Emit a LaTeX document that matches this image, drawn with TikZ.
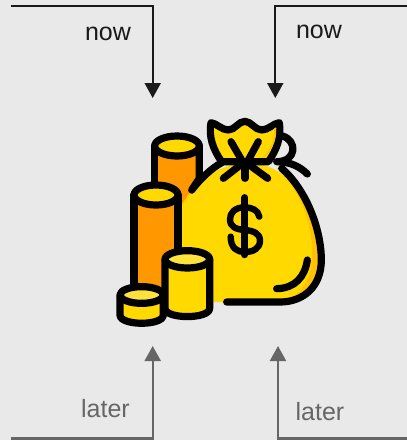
\documentclass[tikz,border=0pt]{standalone}
\usepackage{fontspec}
\setmainfont{Liberation Sans}
\usetikzlibrary{arrows.meta}
\tikzset{
  nowArrow/.style={color={rgb, 255:red, 26; green, 26; blue, 26 }, line width=1.5pt, -{Triangle[length=11.25pt,width=12pt]}},
  laterArrow/.style={color={rgb, 255:red, 102; green, 102; blue, 102 }, line width=1.7pt, -{Triangle[length=11.25pt,width=12pt]}},
  nowLabel/.style={color={rgb, 255:red, 26; green, 26; blue, 26 }, font=\fontsize{18.75}{20}\selectfont, inner sep=0.75pt},
  laterLabel/.style={color={rgb, 255:red, 102; green, 102; blue, 102 }, font=\fontsize{18.75}{20}\selectfont, inner sep=0.75pt},
  iconLine/.style={color=black, line width=5.4pt, line cap=round, line join=round},
  goldFill/.style={fill={rgb, 255:red, 255; green, 217; blue, 0 }},
  paleFill/.style={fill={rgb, 255:red, 255; green, 226; blue, 60 }},
  darkGoldFill/.style={fill={rgb, 255:red, 255; green, 193; blue, 7 }},
  orangeFill/.style={fill={rgb, 255:red, 255; green, 152; blue, 0 }}
}
\begin{document}
\begin{tikzpicture}[x=0.75pt,y=0.75pt,yscale=-1,xscale=1]
%Shape: Background
\fill [color={rgb, 255:red, 233; green, 233; blue, 233 }] (0,0) rectangle (407,440) ;
\useasboundingbox (0,0) rectangle (407,440) ;

%Connector ends
\coordinate (nowLeftStart) at (11,6.3) ;
\coordinate (nowLeftBend) at (152.7,6.3) ;
\coordinate (nowLeftEnd) at (152.7,98) ;
\coordinate (nowRightStart) at (407,6.3) ;
\coordinate (nowRightBend) at (275.3,6.3) ;
\coordinate (nowRightEnd) at (275.3,98) ;
\coordinate (laterLeftStart) at (11,438.6) ;
\coordinate (laterLeftBend) at (152.7,438.6) ;
\coordinate (laterLeftEnd) at (152.7,346) ;
\coordinate (laterRightStart) at (407,438.6) ;
\coordinate (laterRightBend) at (278,438.6) ;
\coordinate (laterRightEnd) at (278,346) ;

%Straight Lines
\draw [nowArrow] (nowLeftStart) -- (nowLeftBend) -- (nowLeftEnd) ;
\draw [nowArrow] (nowRightStart) -- (nowRightBend) -- (nowRightEnd) ;
\draw [laterArrow] (laterLeftStart) -- (laterLeftBend) -- (laterLeftEnd) ;
\draw [laterArrow] (laterRightStart) -- (laterRightBend) -- (laterRightEnd) ;

% Text Node
\node [nowLabel] (nowLeft) at (108,33.5) {now} ;
% Text Node
\node [nowLabel] (nowRight) at (319,31.5) {now} ;
% Text Node
\node [laterLabel] (laterLeft) at (105.5,409) {later} ;
% Text Node
\node [laterLabel] (laterRight) at (320,411.5) {later} ;

%Icon, drawn in a 3x grid
\begin{scope}[shift={(100,100)},scale=0.33333]
%Shape: Bag
\path [goldFill] (240,320) .. controls (285,250) and (335,200) .. (435,188) .. controls (520,190) and (560,225) .. (600,285) .. controls (650,360) and (665,430) .. (662,480) .. controls (660,570) and (600,606) .. (540,606) -- (340,606) -- (240,450) -- cycle ;
\path [darkGoldFill] (530,205) .. controls (600,270) and (640,370) .. (636,470) .. controls (632,550) and (600,590) .. (540,606) .. controls (620,606) and (662,560) .. (662,480) .. controls (665,400) and (620,270) .. (545,205) -- cycle ;
\draw [iconLine] (275,270) .. controls (305,232) and (335,205) .. (365,188) ;
\draw [iconLine] (545,205) .. controls (620,270) and (664,390) .. (664,480) .. controls (664,560) and (610,606) .. (540,606) -- (380,606) ;
\draw [iconLine] (622,480) .. controls (615,530) and (585,565) .. (530,566) ;
%Shape: Loop
\draw [iconLine] (547,108) .. controls (592,120) and (592,185) .. (530,185) .. controls (570,185) and (600,200) .. (622,222) ;
%Shape: Ruffle
\draw [iconLine, goldFill] (333,68) .. controls (350,70) and (365,90) .. (385,90) .. controls (405,90) and (415,64) .. (435,64) .. controls (453,64) and (465,90) .. (485,90) .. controls (505,90) and (520,70) .. (538,68) .. controls (545,110) and (530,150) .. (505,185) -- (365,185) .. controls (340,150) and (325,110) .. (333,68) -- cycle ;
\path [darkGoldFill] (522,86) -- (528,82) .. controls (532,110) and (520,145) .. (495,172) -- (486,172) .. controls (512,150) and (525,115) .. (522,86) -- cycle ;
\draw [iconLine] (393,125) -- (425,180) ;
\draw [iconLine] (475,125) -- (445,180) ;
\draw [iconLine] (415,200) -- (370,235) ;
\draw [iconLine] (455,200) -- (503,235) ;
\draw [iconLine] (435,190) -- (435,235) ;
%Shape: Dollar
\draw [iconLine, line width=4.8pt] (434,292) -- (434,465) ;
\draw [iconLine, line width=4.8pt] (478,350) .. controls (474,330) and (455,322) .. (434,322) .. controls (405,322) and (390,338) .. (390,358) .. controls (390,382) and (410,388) .. (434,390) .. controls (460,392) and (480,400) .. (480,422) .. controls (480,445) and (460,456) .. (434,456) .. controls (412,456) and (392,445) .. (392,410) ;
%Shape: Back Cylinder
\path [orangeFill] (164,138) -- (298,138) -- (298,235) -- (275,270) -- (240,320) -- (164,320) -- cycle ;
\draw [iconLine] (164,138) -- (164,270) ;
\draw [iconLine] (298,138) -- (298,235) -- (275,270) ;
\draw [iconLine, goldFill] (231,138) circle [x radius=67, y radius=30] ;
%Shape: Middle Cylinder
\path [orangeFill] (102,285) rectangle (234,560) ;
\draw [iconLine] (102,285) -- (102,550) ;
\draw [iconLine] (234,285) -- (234,460) ;
\draw [iconLine, goldFill] (168,285) circle [x radius=66, y radius=30] ;
%Shape: Small Cylinder
\draw [iconLine, goldFill] (195,478) -- (195,625) .. controls (195,658) and (329,658) .. (329,625) -- (329,478) -- cycle ;
\draw [iconLine, paleFill] (262,478) circle [x radius=67, y radius=26] ;
%Shape: Coin
\draw [iconLine, goldFill] (60,585) -- (60,645) .. controls (60,678) and (190,678) .. (190,645) -- (190,585) -- cycle ;
\draw [iconLine, paleFill] (125,585) circle [x radius=65, y radius=25] ;
\end{scope}

\end{tikzpicture}
\end{document}
